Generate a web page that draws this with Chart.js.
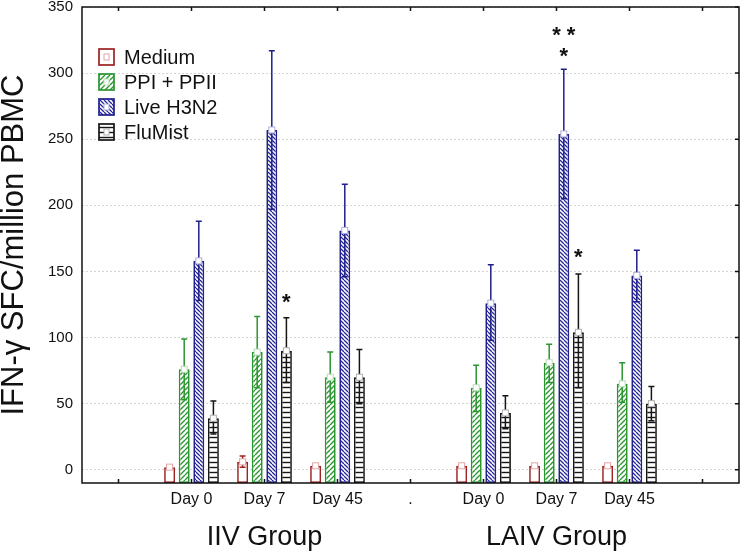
<!DOCTYPE html>
<html>
<head>
<meta charset="utf-8">
<script src="https://cdn.jsdelivr.net/npm/chart.js@4/dist/chart.umd.min.js"></script>
<style>
  html, body { margin: 0; padding: 0; background: #fff; }
</style>
</head>
<body>
<canvas id="chart" width="742" height="551"></canvas>
<script>
// categories (blank slots at both ends and the "." separator come from the original axis)
const dayLabels = ['', 'Day 0', 'Day 7', 'Day 45', '.', 'Day 0', 'Day 7', 'Day 45', ''];
const groupLabels = ['', '', 'IIV Group', '', '', '', 'LAIV Group', '', ''];
const seriesNames = ['Medium', 'PPI + PPII', 'Live H3N2', 'FluMist'];
const yTickValues = [0, 50, 100, 150, 200, 250, 300, 350];

// means and error limits
const mediumMean  = [null, 2, 6, 3, null, 3, 3, 3, null];
const mediumUpper = [null, 3, 10.5, 4, null, 4, 4, 4, null];
const mediumLower = [null, 1, 2, 2, null, 2, 2, 2, null];

const ppiMean  = [null, 76, 89, 70, null, 62, 81, 65, null];
const ppiUpper = [null, 99, 116, 89, null, 79, 95, 81, null];
const ppiLower = [null, 53, 62, 51, null, 44, 66, 51, null];

const h3n2Mean  = [null, 158, 257, 181, null, 126, 254, 147, null];
const h3n2Upper = [null, 188, 317, 216, null, 155, 303, 166, null];
const h3n2Lower = [null, 128, 197, 146, null, 98, 205, 127, null];

const flumistMean  = [null, 39, 90, 70, null, 43, 104, 50, null];
const flumistUpper = [null, 52, 115, 91, null, 56, 148, 63, null];
const flumistLower = [null, 27, 66, 50, null, 31, 62, 37, null];

// significance marks: category index, series index, value where the mark sits
const starCats   = [2, 6, 6, 6];
const starSeries = [3, 2, 2, 3];
const starValues = [129, 331, 315, 163];
const starTexts  = ['*', '* *', '*', '*'];

const FONT = "'Liberation Sans', Arial, sans-serif";
Chart.defaults.font.family = FONT;
Chart.defaults.color = '#111';

function makePattern(color, dir, gap, lw) {
  const c = document.createElement('canvas');
  c.width = gap; c.height = gap;
  const g = c.getContext('2d');
  g.fillStyle = '#fff';
  g.fillRect(0, 0, gap, gap);
  g.strokeStyle = color;
  g.lineWidth = lw;
  g.beginPath();
  if (dir === 'h') {
    g.moveTo(0, gap / 2); g.lineTo(gap, gap / 2);
  } else {
    for (const k of [-gap, 0, gap]) {
      if (dir === '/') { g.moveTo(k, gap); g.lineTo(k + gap, 0); }
      else { g.moveTo(k, 0); g.lineTo(k + gap, gap); }
    }
  }
  g.stroke();
  return g.createPattern(c, 'repeat');
}

const ctx = document.getElementById('chart').getContext('2d');

const seriesStyles = [
  { border: '#9c2222', fill: '#ffffff', marker: '#e3a5a5' },
  { border: '#2a9630', fill: makePattern('#2a9630', '/', 5, 1.4), marker: '#b8dcb8' },
  { border: '#20208c', fill: makePattern('#262699', '\\', 4, 1.3), marker: '#b0b0d8' },
  { border: '#151515', fill: makePattern('#151515', 'h', 5, 1.4), marker: '#b0b0b0' }
];

function makeDataset(i, mean, upper, lower) {
  return {
    label: seriesNames[i],
    data: mean,
    upper: upper,
    lower: lower,
    base: -10,
    backgroundColor: seriesStyles[i].fill,
    borderColor: seriesStyles[i].border,
    markerColor: seriesStyles[i].marker,
    borderWidth: 1.7,
    borderSkipped: false,
    categoryPercentage: 0.8,
    barPercentage: 0.75
  };
}

const errorBarPlugin = {
  id: 'errorBars',
  afterDatasetsDraw(chart) {
    const c = chart.ctx;
    const y = chart.scales.y;
    chart.data.datasets.forEach((ds, i) => {
      const meta = chart.getDatasetMeta(i);
      meta.data.forEach((bar, j) => {
        if (ds.data[j] == null) return;
        const xp = bar.x;
        const top = y.getPixelForValue(ds.upper[j]);
        const bot = y.getPixelForValue(ds.lower[j]);
        c.save();
        c.strokeStyle = ds.borderColor;
        c.lineWidth = 1.5;
        c.beginPath();
        c.moveTo(xp, top); c.lineTo(xp, bot);
        c.moveTo(xp - 3, top); c.lineTo(xp + 3, top);
        c.moveTo(xp - 3, bot); c.lineTo(xp + 3, bot);
        c.stroke();
        // mean marker
        c.fillStyle = '#fff';
        c.strokeStyle = ds.markerColor;
        c.lineWidth = 1;
        c.fillRect(xp - 3, bar.y - 3, 6, 6);
        c.strokeRect(xp - 3, bar.y - 3, 6, 6);
        c.restore();
      });
    });
    // significance stars
    c.save();
    c.fillStyle = '#111';
    c.font = 'bold 22px ' + FONT;
    c.textAlign = 'center';
    c.textBaseline = 'alphabetic';
    starCats.forEach((cat, k) => {
      const bar = chart.getDatasetMeta(starSeries[k]).data[cat];
      const yp = y.getPixelForValue(starValues[k]);
      c.fillText(starTexts[k], bar.x, yp + 10);
    });
    c.restore();
  }
};

const framePlugin = {
  id: 'frame',
  afterDraw(chart) {
    const c = chart.ctx;
    const a = chart.chartArea;
    const xs = chart.scales.x, ys = chart.scales.y;
    c.save();
    c.strokeStyle = '#111';
    c.lineWidth = 1.5;
    c.strokeRect(a.left, a.top, a.right - a.left, a.bottom - a.top);
    c.beginPath();
    for (let i = 0; i < dayLabels.length; i++) {
      const xp = xs.getPixelForTick(i);
      c.moveTo(xp, a.bottom); c.lineTo(xp, a.bottom - 4);
      c.moveTo(xp, a.top); c.lineTo(xp, a.top + 4);
    }
    ys.ticks.forEach((t, i) => {
      const yp = ys.getPixelForTick(i);
      c.moveTo(a.right, yp); c.lineTo(a.right - 4, yp);
    });
    c.stroke();

    // legend inside the plot
    const lx = a.left + 17, ly = a.top + 42, rowH = 25;
    seriesNames.forEach((name, i) => {
      const st = seriesStyles[i];
      const yTop = ly + i * rowH;
      c.fillStyle = st.fill;
      c.fillRect(lx, yTop, 15, 16);
      c.strokeStyle = st.border;
      c.lineWidth = 1.7;
      c.strokeRect(lx, yTop, 15, 16);
      c.fillStyle = '#fff';
      c.strokeStyle = st.marker;
      c.lineWidth = 1;
      c.fillRect(lx + 5, yTop + 5, 5, 6);
      c.strokeRect(lx + 5, yTop + 5, 5, 6);
      c.fillStyle = '#111';
      c.font = '20px ' + FONT;
      c.textAlign = 'left';
      c.textBaseline = 'middle';
      c.fillText(name, lx + 25, yTop + 9);
    });
    c.restore();
  }
};

function noPadding(s) {
  s.paddingTop = 0; s.paddingBottom = 0; s.paddingLeft = 0; s.paddingRight = 0;
}

new Chart(ctx, {
  type: 'bar',
  data: {
    labels: dayLabels,
    datasets: [
      makeDataset(0, mediumMean, mediumUpper, mediumLower),
      makeDataset(1, ppiMean, ppiUpper, ppiLower),
      makeDataset(2, h3n2Mean, h3n2Upper, h3n2Lower),
      makeDataset(3, flumistMean, flumistUpper, flumistLower)
    ]
  },
  options: {
    responsive: false,
    animation: false,
    devicePixelRatio: 1,
    layout: { autoPadding: false, padding: { top: 7, right: 3, left: 0, bottom: 0 } },
    plugins: { legend: { display: false }, tooltip: { enabled: false } },
    scales: {
      x: {
        type: 'category',
        offset: true,
        grid: { display: false, drawTicks: false },
        border: { display: false },
        ticks: { font: { size: 16 }, color: '#111', padding: 7, autoSkip: false, maxRotation: 0 },
        afterFit: s => { s.height = 30; noPadding(s); }
      },
      x2: {
        type: 'category',
        labels: groupLabels,
        position: 'bottom',
        offset: true,
        grid: { display: false, drawTicks: false },
        border: { display: false },
        ticks: { font: { size: 27 }, color: '#111', padding: 8, autoSkip: false, maxRotation: 0 },
        afterFit: s => { s.height = 38; noPadding(s); }
      },
      y: {
        min: -10,
        max: 350,
        ticks: { font: { size: 15 }, color: '#111', padding: 9 },
        afterBuildTicks: s => { s.ticks = yTickValues.map(v => ({ value: v })); },
        grid: { color: '#d4d4d4', drawTicks: false, lineWidth: 1 },
        border: { display: false, dash: [2, 2] },
        title: { display: true, text: 'IFN-γ SFC/million PBMC', font: { size: 31, lineHeight: 0.95 }, color: '#111', padding: 0 },
        afterFit: s => { s.width = 82; noPadding(s); }
      }
    }
  },
  plugins: [errorBarPlugin, framePlugin]
});
</script>
</body>
</html>
